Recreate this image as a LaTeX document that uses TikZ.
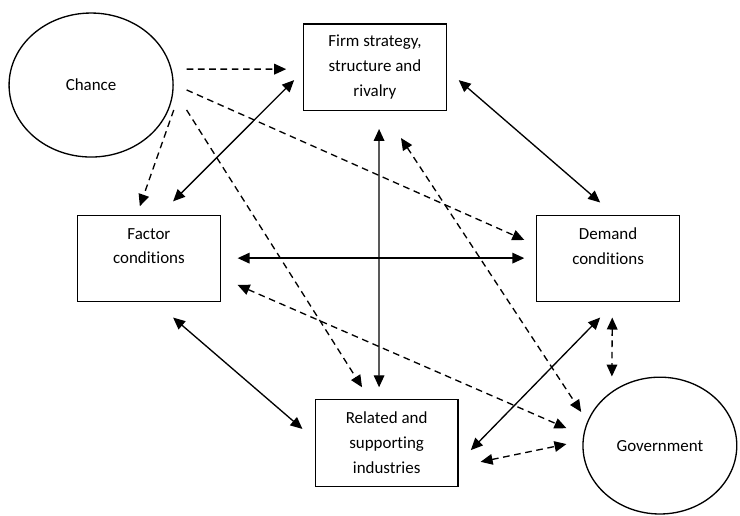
\documentclass[tikz,border=0pt]{standalone}
\usepackage{fontspec}
\setmainfont[Ligatures=NoCommon]{Carlito}
\usepackage{tikz}
\usetikzlibrary{arrows.meta,shapes.geometric}
\tikzset{
    mybox/.style={rectangle,draw=black,line width=1pt,minimum width=3.78cm,minimum height=2.29cm,inner sep=0pt,align=center,font=\fontsize{12.75}{18.75}\selectfont},
    myellipse/.style={ellipse,draw=black,line width=1pt,inner sep=0pt,font=\fontsize{12.75}{18.75}\selectfont},
    myarrow/.style={<->, >={Triangle[length=9pt,width=8pt]}, line width=1pt},
    mydash/.style={->, >={Triangle[length=9pt,width=8pt]}, line width=1pt, dash pattern=on 5pt off 3.5pt}
}
\begin{document}
\begin{tikzpicture}
    \useasboundingbox (0,0) rectangle (19.58,13.63);
    \draw (2.41,11.38) node[myellipse,minimum width=4.34cm,minimum height=3.81cm] (chance) {Chance};
    \draw (9.92,11.85) node[mybox] (firm) {Firm strategy,\\structure and\\rivalry};
    \draw (3.94,6.79) node[mybox] (factor) {Factor\\conditions\\\mbox{}};
    \draw (16.09,6.79) node[mybox] (demand) {Demand\\conditions\\\mbox{}};
    \draw (10.23,1.91) node[mybox] (related) {Related and\\supporting\\industries};
    \draw (17.46,1.84) node[myellipse,minimum width=4.07cm,minimum height=3.62cm] (government) {Government};
    % chance
    \draw[mydash] ([shift={(0.34,0.42)}]chance.east) -- ([shift={(-0.44,-0.05)}]firm.west);
    \draw[mydash] ([shift={(0,-0.66)}]chance.east) -- ([shift={(-0.24,0.22)}]factor.north);
    \draw[mydash] ([shift={(0.34,-0.13)}]chance.east) -- ([shift={(-0.31,0.49)}]demand.west);
    \draw[mydash] ([shift={(0.34,-0.66)}]chance.east) -- ([shift={(-0.65,0.31)}]related.north);
    % diamond
    \draw[myarrow] ([shift={(-0.23,-0.34)}]firm.west) -- ([shift={(0.64,0.35)}]factor.north);
    \draw[myarrow] ([shift={(0.31,-0.34)}]firm.east) -- ([shift={(-0.21,0.32)}]demand.north);
    \draw[myarrow] ([shift={(0.11,-0.47)}]firm.south) -- ([shift={(-0.2,0.31)}]related.north);
    \draw[myarrow] ([shift={(0.44,0.01)}]factor.east) -- ([shift={(-0.31,0.01)}]demand.west);
    \draw[myarrow] ([shift={(0.64,-0.4)}]factor.south) -- ([shift={(-0.32,0.37)}]related.west);
    \draw[myarrow] ([shift={(0.32,-0.19)}]related.east) -- ([shift={(-0.21,-0.4)}]demand.south);
    % government
    \draw[mydash,<->] ([shift={(0.69,-0.71)}]firm.south) -- ([shift={(-0.03,0.89)}]government.west);
    \draw[mydash,<->] ([shift={(0.44,-0.7)}]factor.east) -- ([shift={(-0.42,0.46)}]government.west);
    \draw[mydash,<->] ([shift={(0.58,-0.5)}]related.east) -- ([shift={(-0.42,0.04)}]government.west);
    \draw[mydash,<->] ([shift={(0.11,-0.4)}]demand.south) -- ([shift={(-1.27,0)}]government.north);
\end{tikzpicture}
\end{document}
